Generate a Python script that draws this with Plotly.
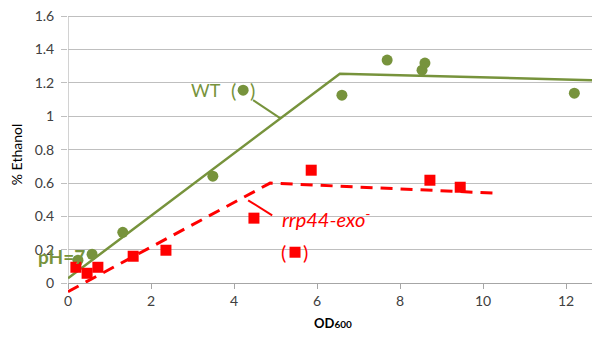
import plotly.graph_objects as go

# WT data (green circles)
wt_x = [0.24, 0.58, 1.32, 3.49, 4.22, 6.6, 7.69, 8.53, 8.6, 12.2]
wt_y = [0.138, 0.174, 0.305, 0.641, 1.156, 1.126, 1.336, 1.276, 1.318, 1.138]
# rrp44-exo data (red squares)
rrp_x = [0.19, 0.46, 0.72, 1.57, 2.36, 4.48, 5.47, 5.86, 8.72, 9.45]
rrp_y = [0.096, 0.06, 0.096, 0.162, 0.198, 0.39, 0.186, 0.677, 0.617, 0.575]
# piecewise fit lines
wt_fit_x = [0, 6.55, 12.8]
wt_fit_y = [0.03, 1.255, 1.215]
rrp_fit_x = [0, 4.87, 10.25]
rrp_fit_y = [-0.05, 0.6, 0.54]
y_ticks = [0, 0.2, 0.4, 0.6, 0.8, 1, 1.2, 1.4, 1.6]
y_tick_labels = ["0", "0.2", "0.4", "0.6", "0.8", "1", "1.2", "1.4", "1.6"]
x_ticks = [0, 2, 4, 6, 8, 10, 12]

GREEN = "#77933C"
RED = "#FF0000"
FONT = "Lato"
Y_MIN, Y_MAX = -0.07, 1.612

fig = go.Figure()
fig.add_trace(go.Scatter(x=wt_fit_x, y=wt_fit_y, mode="lines",
                         line=dict(color=GREEN, width=2.5), showlegend=False))
fig.add_trace(go.Scatter(x=rrp_fit_x, y=rrp_fit_y, mode="lines",
                         line=dict(color=RED, width=3, dash="12px,8px"), showlegend=False))
fig.add_trace(go.Scatter(x=wt_x, y=wt_y, mode="markers",
                         marker=dict(color=GREEN, size=11, symbol="circle"), showlegend=False))
fig.add_trace(go.Scatter(x=rrp_x, y=rrp_y, mode="markers",
                         marker=dict(color=RED, size=11, symbol="square"), showlegend=False))

# y axis line from 0 to 1.6
fig.add_shape(type="line", x0=0, x1=0, y0=0, y1=1.6, xref="x", yref="y",
              line=dict(color="#A6A6A6", width=1), layer="below")
# callout lines
fig.add_shape(type="line", x0=4.46, y0=1.096, x1=5.11, y1=0.989,
              line=dict(color=GREEN, width=2))
fig.add_shape(type="line", x0=4.34, y0=0.497, x1=4.92, y1=0.407,
              line=dict(color=RED, width=2))

def ann(x, y, text, color, size, xanchor="center", xref="x"):
    fig.add_annotation(x=x, y=y, text=text, showarrow=False, xanchor=xanchor, xref=xref,
                       font=dict(family=FONT, size=size, color=color))

ann(3.33, 1.16, "WT", GREEN, 18)
ann(3.98, 1.16, "(", GREEN, 20)
ann(4.45, 1.16, ")", GREEN, 20)
ann(5.11, 0.392, "<i>rrp44-exo</i><sup>-</sup>", RED, 20, xanchor="left")
ann(5.2, 0.19, "(", RED, 20)
ann(5.72, 0.19, ")", RED, 20)
ann(-0.012, 0.16, "<b>pH=7</b>", GREEN, 19, xref="paper")

# page body has an 8px margin: offset figure margins accordingly
fig.update_layout(
    width=592, height=335,
    margin=dict(l=60, r=2, t=6, b=48, autoexpand=False),
    paper_bgcolor="white", plot_bgcolor="white",
    font=dict(family=FONT, size=14, color="#404040"),
    xaxis=dict(range=[0, 12.77], tickvals=x_ticks, showgrid=False, zeroline=False,
               showline=True, linecolor="#A6A6A6", linewidth=1, automargin=False,
               ticks="outside", ticklen=5, tickcolor="#A6A6A6",
               anchor="free", position=-Y_MIN / (Y_MAX - Y_MIN),
               title=dict(text="<b>OD<span style='font-size:10px'>600</span></b>",
                          font=dict(size=13, color="#000000"), standoff=10),
               tickfont=dict(size=14, color="#404040")),
    yaxis=dict(range=[Y_MIN, Y_MAX], tickvals=y_ticks, ticktext=y_tick_labels,
               showgrid=True, gridcolor="#BFBFBF", gridwidth=1, zeroline=False,
               automargin=False, ticklabelstandoff=4, ticklabeloverflow="allow",
               showline=False, ticks="outside", ticklen=6, tickcolor="#BFBFBF",
               title=dict(text="% Ethanol", font=dict(size=14, color="#000000"), standoff=10),
               tickfont=dict(size=14, color="#404040")),
)

fig.write_html("out.html")
